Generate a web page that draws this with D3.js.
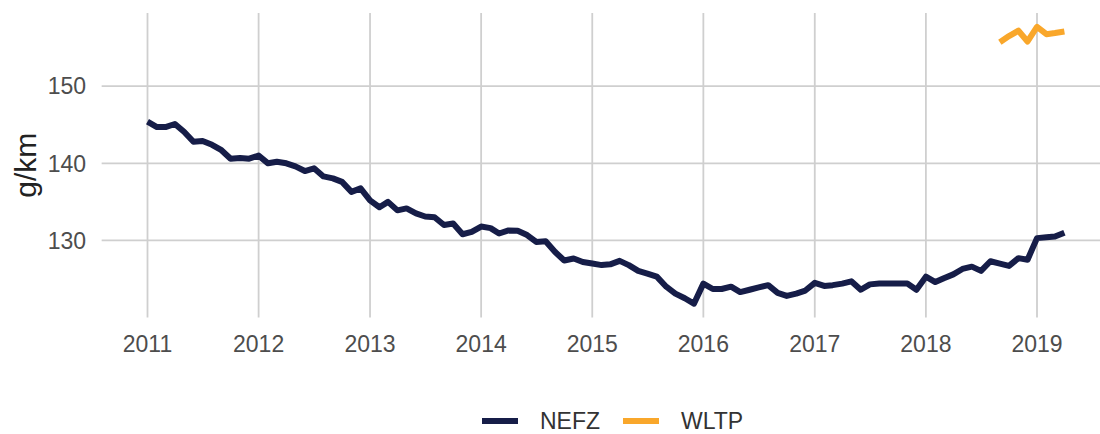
<!DOCTYPE html>
<html>
<head>
<meta charset="utf-8">
<script src="https://cdn.jsdelivr.net/npm/d3@7"></script>
<style>
  body { margin: 0; background: #fff; }
  svg { font-family: "Liberation Sans", Arial, sans-serif; }
</style>
</head>
<body>
<svg id="chart" width="1100" height="434"></svg>
<script>
// monthly CO2 averages, g/km
const nefzStart = "2011-01";
const nefzValues = [
  145.4, 144.7, 144.7, 145.1, 144.1, 142.8, 142.9, 142.4, 141.7, 140.6, 140.7, 140.6, // 2011
  141.0, 140.0, 140.2, 140.0, 139.6, 139.0, 139.35, 138.3, 138.05, 137.6, 136.3, 136.75, // 2012
  135.2, 134.3, 135.0, 133.9, 134.15, 133.5, 133.1, 133.0, 132.0, 132.2, 130.8, 131.1, // 2013
  131.8, 131.6, 130.9, 131.3, 131.25, 130.7, 129.8, 129.9, 128.5, 127.4, 127.65, 127.2, // 2014
  127.0, 126.8, 126.9, 127.35, 126.8, 126.05, 125.7, 125.3, 124.0, 123.1, 122.5, 121.8, // 2015
  124.4, 123.7, 123.7, 124.0, 123.3, 123.6, 123.9, 124.2, 123.2, 122.8, 123.1, 123.5, // 2016
  124.5, 124.1, 124.2, 124.4, 124.7, 123.6, 124.3, 124.4, 124.4, 124.4, 124.4, 123.6, // 2017
  125.3, 124.6, 125.1, 125.6, 126.3, 126.6, 126.05, 127.3, 127.0, 126.7, 127.7, 127.5, // 2018
  130.3, 130.4, 130.5, 131.0 // 2019
];
const wltpStart = "2018-09";
const wltpValues = [155.7, 156.5, 157.2, 155.8, 157.7, 156.75, 156.9, 157.1];

const seriesNames = ["NEFZ", "WLTP"];
const seriesColors = ["#161d48", "#f9a72b"];
const yTicks = [130, 140, 150];
const yLabel = "g/km";

const parseMonth = d3.timeParse("%Y-%m");
function toPoints(start, values) {
  const t0 = parseMonth(start);
  return values.map((v, i) => ({ date: d3.timeMonth.offset(t0, i), value: v }));
}
const series = [toPoints(nefzStart, nefzValues), toPoints(wltpStart, wltpValues)];

const svg = d3.select("#chart");

// x scale: year gridlines
const x = d3.scaleTime()
  .domain([new Date(2011, 0, 1), new Date(2019, 0, 1)])
  .range([147.5, 1037]);

const allPts = series.flat();
const tExt = d3.extent(allPts, d => d.date);
const tPad = (tExt[1] - tExt[0]) * 0.05;
const panelLeft = x(new Date(+tExt[0] - tPad));
const panelRight = Math.min(x(new Date(+tExt[1] + tPad)), 1100);

const vExt = d3.extent(allPts, d => d.value);
const vPad = (vExt[1] - vExt[0]) * 0.05;
const y = d3.scaleLinear()
  .domain([vExt[0] - vPad, vExt[1] + vPad])
  .range([317.5, 13]);

const panelTop = y.range()[1], panelBottom = y.range()[0];

// grid
const grid = svg.append("g").attr("stroke", "#cfcfcf").attr("stroke-width", 1.8);
grid.selectAll(".hg").data(yTicks).join("line")
  .attr("x1", panelLeft).attr("x2", panelRight)
  .attr("y1", d => y(d)).attr("y2", d => y(d));
const xTicks = x.ticks(d3.timeYear.every(1));
grid.selectAll(".vg").data(xTicks).join("line")
  .attr("x1", d => x(d)).attr("x2", d => x(d))
  .attr("y1", panelTop).attr("y2", panelBottom);

// axes labels
svg.append("g").selectAll("text").data(yTicks).join("text")
  .attr("x", 86).attr("y", d => y(d)).attr("dy", "0.36em")
  .attr("text-anchor", "end").attr("font-size", 23).attr("fill", "#4d4d4d")
  .text(d => d);

svg.append("g").selectAll("text").data(xTicks).join("text")
  .attr("x", d => x(d)).attr("y", 352)
  .attr("text-anchor", "middle").attr("font-size", 23).attr("fill", "#4d4d4d")
  .text(d3.timeFormat("%Y"));

svg.append("text")
  .attr("transform", `translate(36,${(panelTop + panelBottom) / 2}) rotate(-90)`)
  .attr("text-anchor", "middle").attr("font-size", 30).attr("fill", "#222")
  .text(yLabel);

// lines
const line = d3.line().x(d => x(d.date)).y(d => y(d.value));
svg.append("g").selectAll("path").data(series).join("path")
  .attr("d", line)
  .attr("fill", "none")
  .attr("stroke", (d, i) => seriesColors[i])
  .attr("stroke-width", 6)
  .attr("stroke-linejoin", "round");

// legend
const legendX = [482, 623];
const lg = svg.append("g").selectAll("g").data(seriesNames).join("g")
  .attr("transform", (d, i) => `translate(${legendX[i]},421)`);
lg.append("line").attr("x1", 0).attr("x2", 36)
  .attr("stroke", (d, i) => seriesColors[i]).attr("stroke-width", 6);
lg.append("text").attr("x", 58).attr("dy", "0.36em")
  .attr("font-size", 23).attr("fill", "#333")
  .text(d => d);
</script>
</body>
</html>
